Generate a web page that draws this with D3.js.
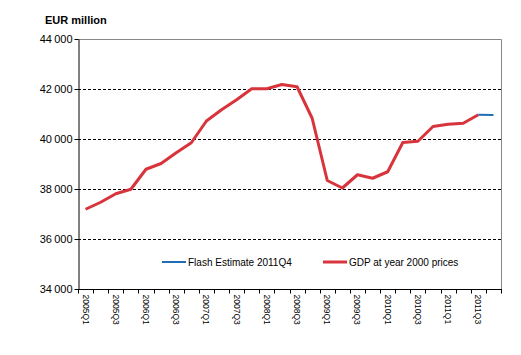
<!DOCTYPE html>
<html><head><meta charset="utf-8">
<script src="https://cdn.jsdelivr.net/npm/d3@7/dist/d3.min.js"></script>
<style>body{margin:0;background:#fff}svg{display:block;font-family:Arial,"Liberation Sans",sans-serif}</style>
</head><body><svg id="c" width="521" height="355"></svg>
<script>
const quarters = ["2005Q1","2005Q2","2005Q3","2005Q4","2006Q1","2006Q2","2006Q3","2006Q4",
"2007Q1","2007Q2","2007Q3","2007Q4","2008Q1","2008Q2","2008Q3","2008Q4",
"2009Q1","2009Q2","2009Q3","2009Q4","2010Q1","2010Q2","2010Q3","2010Q4",
"2011Q1","2011Q2","2011Q3","2011Q4"];
const gdp = [37190,37470,37810,37990,38790,39020,39450,39850,
40720,41170,41570,42010,42010,42180,42090,40830,
38340,38040,38570,38430,38690,39860,39910,40500,
40590,40630,40970,null];
const flash = [null,null,null,null,null,null,null,null,null,null,null,null,null,null,null,null,
null,null,null,null,null,null,null,null,null,null,40970,40960];
const yTicks = [34000,36000,38000,40000,42000,44000];
const xLabels = quarters.filter((q,i)=>i%2===0);
const seriesNames = ["Flash Estimate 2011Q4","GDP at year 2000 prices"];
const colors = {flash:"#1f6db4", gdp:"#d8343c"};

const svg = d3.select("#c");
const L=78,R=501,T=39,B=289;
const x = d3.scaleBand().domain(quarters).range([L,R]).padding(0);
const y = d3.scaleLinear().domain([34000,44000]).range([B,T]);
const fmt = d3.formatLocale({decimal:",",thousands:"\u2009",grouping:[3],currency:["",""]}).format(",d");

// grid
svg.append("g").selectAll("line").data(yTicks.filter(v=>v>34000&&v<44000)).join("line")
 .attr("x1",L).attr("x2",R).attr("y1",d=>Math.round(y(d))+0.5).attr("y2",d=>Math.round(y(d))+0.5)
 .attr("stroke","#000").attr("stroke-width",1).attr("stroke-dasharray","3,2");
// top & right border
svg.append("path").attr("d",`M${L},${T+0.5}H${R+0.5}V${B}`).attr("fill","none").attr("stroke","#888");

// y axis
const ya = svg.append("g").attr("transform",`translate(${L+0.5},0)`)
 .call(d3.axisLeft(y).tickValues(yTicks).tickFormat(fmt).tickSize(4).tickSizeOuter(0));
ya.select(".domain").attr("stroke","#000");
ya.selectAll("text").attr("font-size",11).attr("fill","#000").attr("x",-6).attr("font-family","Arial,'Liberation Sans',sans-serif");

// x axis
const xa = svg.append("g").attr("transform",`translate(0,${B+0.5})`);
xa.append("line").attr("x1",L).attr("x2",R+1).attr("stroke","#000");
const bounds = quarters.map(q=>x(q)).concat([R]);
xa.selectAll("line.t").data(bounds).join("line").attr("class","t")
 .attr("x1",d=>Math.round(d)+0.5).attr("x2",d=>Math.round(d)+0.5).attr("y1",0).attr("y2",4).attr("stroke","#000");
xa.selectAll("text").data(xLabels).join("text")
 .attr("transform",d=>`translate(${x(d)+x.bandwidth()/2},5) rotate(90)`)
 .attr("dy","0.35em").attr("font-size",8.5).attr("fill","#000").text(d=>d);

// lines
const line = d3.line().defined(d=>d[1]!=null).x(d=>x(d[0])+x.bandwidth()/2).y(d=>y(d[1]));
svg.append("path").datum(quarters.map((q,i)=>[q,gdp[i]])).attr("d",line)
 .attr("fill","none").attr("stroke",colors.gdp).attr("stroke-width",3).attr("stroke-linejoin","round");
svg.append("path").datum(quarters.map((q,i)=>[q,flash[i]])).attr("d",line)
 .attr("fill","none").attr("stroke",colors.flash).attr("stroke-width",2);

// legend
const leg = [{n:seriesNames[0],c:colors.flash,w:2,x:162},{n:seriesNames[1],c:colors.gdp,w:3,x:323}];
const lg = svg.append("g");
leg.forEach(d=>{
 lg.append("line").attr("x1",d.x).attr("x2",d.x+24).attr("y1",262).attr("y2",262).attr("stroke",d.c).attr("stroke-width",d.w);
 lg.append("text").attr("x",d.x+26).attr("y",262).attr("dy","0.35em").attr("font-size",10).attr("fill","#000").text(d.n);
});

// title
svg.append("text").attr("x",45).attr("y",24).attr("font-size",11).attr("font-weight","bold").text("EUR million");
</script></body></html>
